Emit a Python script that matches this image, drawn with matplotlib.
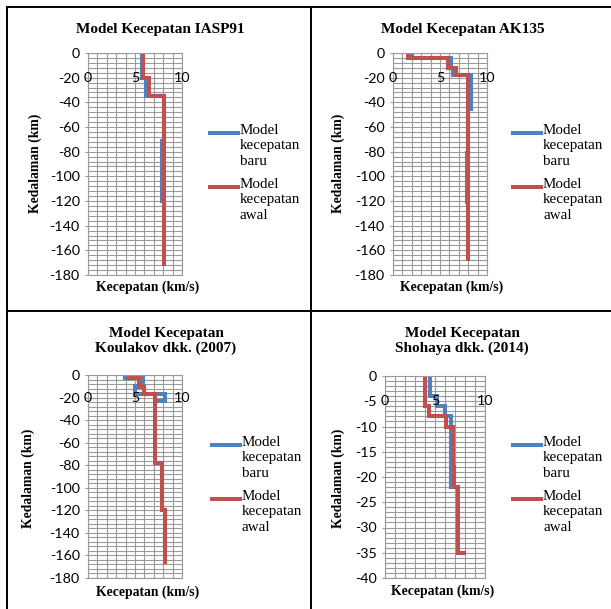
import matplotlib.pyplot as plt
from matplotlib.lines import Line2D
from matplotlib.ticker import MultipleLocator

plt.rcParams['axes.unicode_minus'] = False

W, H = 611, 609
SERIF = 'Liberation Serif'
SANS = 'Lato'
BLUE = '#4F81BD'
RED = '#C0504D'
GRID = '#9a9a9a'

# data: velocity (km/s) vs depth (km), "baru" = new model, "awal" = initial model
iasp_baru_v = [5.7, 5.7, 6.2, 6.2, 8.04, 8.04, 7.85, 7.85]
iasp_baru_d = [0, -20, -20, -35, -35, -71, -71, -120]
iasp_awal_v = [5.8, 5.8, 6.5, 6.5, 8.05, 8.05]
iasp_awal_d = [0, -20, -20, -35, -35, -171]

ak_baru_v = [2.0, 2.0, 6.2, 6.2, 6.35, 6.35, 8.3, 8.3, 8.0, 8.0, 7.85, 7.85]
ak_baru_d = [0, -4, -4, -12, -12, -18, -18, -45, -45, -81, -81, -121]
ak_awal_v = [1.6, 1.6, 5.9, 5.9, 6.7, 6.7, 8.0, 8.0]
ak_awal_d = [0, -4, -4, -12, -12, -18, -18, -167]

kou_baru_v = [3.9, 3.9, 5.9, 5.9, 5.0, 5.0, 8.2, 8.2, 7.2]
kou_baru_d = [0, -3, -3, -10, -10, -17, -17, -23, -23]
kou_awal_v = [4.4, 4.4, 5.45, 5.45, 6.0, 6.0, 7.1, 7.1, 7.9, 7.9, 8.2, 8.2]
kou_awal_d = [0, -3, -3, -11, -11, -17, -17, -78, -78, -120, -120, -166]

sho_baru_v = [4.5, 4.5, 5.2, 5.2, 6.0, 6.0, 6.6, 6.6]
sho_baru_d = [0, -4, -4, -6, -6, -8, -8, -22]
sho_awal_v = [4.0, 4.0, 4.4, 4.4, 6.1, 6.1, 6.75, 6.75, 6.9, 6.9, 7.25, 7.25, 7.9]
sho_awal_d = [0, -6, -6, -8, -8, -10, -10, -18, -18, -22, -22, -35, -35]

titles = ['Model Kecepatan IASP91', 'Model Kecepatan AK135',
          'Model Kecepatan\nKoulakov dkk. (2007)', 'Model Kecepatan\nShohaya dkk. (2014)']
legend_labels = ['Model\nkecepatan\nbaru', 'Model\nkecepatan\nawal']
x_ticks = [0, 5, 10]

fig = plt.figure(figsize=(W / 100, H / 100), dpi=100)


def px_rect(left, top, right, bottom):
    return [left / W, 1 - bottom / H, (right - left) / W, (bottom - top) / H]


def fx(x):
    return x / W


def fy(y):
    return 1 - y / H


def panel(rect, baru_v, baru_d, awal_v, awal_d, ymin, major, minor, title,
          title_xy, ylab_xy, xlab_xy, leg_xy):
    ax = fig.add_axes(px_rect(*rect))
    l1, = ax.plot(baru_v, baru_d, color=BLUE, lw=2.9, solid_joinstyle='miter')
    l2, = ax.plot(awal_v, awal_d, color=RED, lw=2.9, solid_joinstyle='miter')
    ax.set_xlim(0, 10)
    ax.set_ylim(ymin, 0)
    ax.xaxis.set_major_locator(MultipleLocator(5))
    ax.xaxis.set_minor_locator(MultipleLocator(1))
    ax.yaxis.set_major_locator(MultipleLocator(major))
    ax.yaxis.set_minor_locator(MultipleLocator(minor))
    ax.grid(which='both', color=GRID, lw=0.8)
    ax.set_axisbelow(True)
    for s in ax.spines.values():
        s.set_color(GRID)
        s.set_linewidth(0.8)
    ax.tick_params(axis='x', which='both', length=0, labelbottom=False)
    ax.tick_params(axis='y', which='minor', length=0)
    ax.tick_params(axis='y', which='major', length=2, color=GRID, pad=4,
                   labelsize=10.3)
    for lab in ax.get_yticklabels():
        lab.set_fontfamily(SANS)
    # horizontal axis labels sit one major step below the top
    for xt in x_ticks:
        ax.text(xt, -major, str(xt), ha='center', va='center',
                fontfamily=SANS, fontsize=10.3)
    fig.text(fx(title_xy[0]), fy(title_xy[1]), title, ha='center', va='center',
             fontfamily=SERIF, fontweight='bold', fontsize=11, linespacing=1.2)
    fig.text(fx(ylab_xy[0]), fy(ylab_xy[1]), 'Kedalaman (km)', rotation=90,
             ha='center', va='center', fontfamily=SERIF, fontweight='bold',
             fontsize=9.8)
    fig.text(fx(xlab_xy[0]), fy(xlab_xy[1]), 'Kecepatan (km/s)', ha='center',
             va='center', fontfamily=SERIF, fontweight='bold', fontsize=9.8)
    lx, ly = leg_xy
    for i, (ln, lab) in enumerate(zip([l1, l2], legend_labels)):
        y = ly + i * 54
        fig.add_artist(Line2D([fx(lx), fx(lx + 28)], [fy(y), fy(y)],
                              color=ln.get_color(), lw=2.9))
        fig.text(fx(lx + 30), fy(y - 9), lab, ha='left', va='top',
                 fontfamily=SERIF, fontsize=10.8, linespacing=1.25)


panel((88, 53, 182, 275), iasp_baru_v, iasp_baru_d, iasp_awal_v, iasp_awal_d,
      -180, 20, 4, titles[0], (160, 29), (35, 163), (148, 287), (210, 133))
panel((393, 53, 487, 275), ak_baru_v, ak_baru_d, ak_awal_v, ak_awal_d,
      -180, 20, 4, titles[1], (463, 29), (338, 163), (452, 287), (513, 133))
panel((88, 375, 182, 578), kou_baru_v, kou_baru_d, kou_awal_v, kou_awal_d,
      -180, 20, 4, titles[2], (166, 341), (28, 478), (148, 592), (212, 445))
panel((385, 376, 485, 578), sho_baru_v, sho_baru_d, sho_awal_v, sho_awal_d,
      -40, 5, 1, titles[3], (462, 341), (338, 478), (443, 591), (513, 445))

# table borders
for xs, ys in [([7, 7], [7, H]), ([311, 311], [7, H]),
               ([7, W], [7, 7]), ([7, W], [311, 311])]:
    fig.add_artist(Line2D([fx(v) for v in xs], [fy(v) for v in ys],
                          color='black', lw=1.4))

fig.savefig('out.png', dpi=100)
